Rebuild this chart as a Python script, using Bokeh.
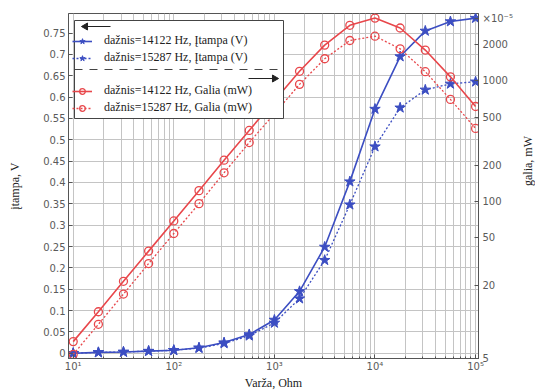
import math
from bokeh.plotting import figure
from bokeh.models import (Range1d, LogScale, LogAxis, FixedTicker, Legend,
                          LegendItem)
from bokeh.embed import file_html
from bokeh.resources import INLINE

# ---------------- data ----------------
resistance = [10, 17.8, 31.6, 56.2, 100, 178, 316, 562, 1000, 1778, 3162,
              5623, 10000, 17783, 31623, 56234, 100000]
voltage_14122 = [0.0, 0.002, 0.003, 0.005, 0.007, 0.013, 0.025, 0.044, 0.078,
                 0.145, 0.249, 0.402, 0.572, 0.695, 0.755, 0.777, 0.785]
voltage_15287 = [0.0, 0.002, 0.003, 0.005, 0.007, 0.012, 0.023, 0.041, 0.071,
                 0.128, 0.218, 0.348, 0.484, 0.575, 0.617, 0.631, 0.636]
power_14122 = [6.9, 12.2, 21.8, 38.8, 69, 123, 220, 388, 684, 1200, 1977,
               2884, 3311, 2741, 1800, 1079, 613]
power_15287 = [5.4, 9.6, 17.1, 30.6, 54.3, 96, 173, 308, 534, 935, 1524,
               2158, 2344, 1841, 1191, 702, 403]

series_labels = ["dažnis=14122 Hz, Įtampa (V)", "dažnis=15287 Hz, Įtampa (V)",
                 "dažnis=14122 Hz, Galia (mW)", "dažnis=15287 Hz, Galia (mW)"]

left_ticks = [0, 0.05, 0.1, 0.15, 0.2, 0.25, 0.3, 0.35, 0.4, 0.45, 0.5, 0.55,
              0.6, 0.65, 0.7, 0.75]
left_tick_labels = ["0", "0.05", "0.1", "0.15", "0.2", "0.25", "0.3", "0.35",
                    "0.4", "0.45", "0.5", "0.55", "0.6", "0.65", "0.7", "0.75"]
right_ticks = [5, 20, 50, 100, 200, 500, 1000, 2000]
right_tick_labels = ["5", "20", "50", "100", "200", "500", "1000", "2000"]
x_ticks = [10, 100, 1000, 10000, 100000]
x_tick_labels = ["10¹", "10²", "10³", "10⁴", "10⁵"]
exponent_label = "×10⁻⁵"

# ---------------- layout / styling ----------------
BLUE = "#3c4ec2"
RED = "#e8474b"
GRID = "#c4c4c4"
AX = "#555555"
TICKFONT = "DejaVu Sans"
SERIF = "Liberation Serif"

FL, FT, FW, FH = 68, 13, 410, 345          # frame left/top/width/height (px)
XR = (8.98, 1.069e5)
YR = (-0.0123, 0.7958)
PR = (5, 3614)
EXP_POS = 3290                              # where the ×10⁻⁵ marker sits

p = figure(frame_width=FW, frame_height=FH, x_axis_type="log",
           x_range=Range1d(*XR), y_range=Range1d(*YR),
           output_backend="svg", toolbar_location=None,
           min_border_left=FL, min_border_right=57, min_border_top=FT,
           min_border_bottom=32, background_fill_color="white",
           border_fill_color="white")
p.outline_line_color = AX
p.outline_line_width = 1

p.extra_y_ranges = {"power": Range1d(*PR)}
p.extra_y_scales = {"power": LogScale()}

# x axis
minor_x = [m * 10 ** k for k in range(0, 6) for m in range(2, 10)]
p.xaxis.ticker = FixedTicker(ticks=x_ticks, minor_ticks=minor_x)
p.xaxis.major_label_overrides = dict(zip(x_ticks, x_tick_labels))
p.xaxis.axis_label = "Varža, Ohm"

# left axis
p.yaxis.ticker = FixedTicker(ticks=left_ticks)
p.yaxis.major_label_overrides = dict(zip(left_ticks, left_tick_labels))
p.yaxis.axis_label = "įtampa, V"

# right axis
ax_r = LogAxis(y_range_name="power",
               ticker=FixedTicker(ticks=right_ticks + [EXP_POS]),
               axis_label="galia, mW")
ov = dict(zip(right_ticks, right_tick_labels))
ov[EXP_POS] = exponent_label
ax_r.major_label_overrides = ov
if "axis_label_orientation" in ax_r.properties():
    ax_r.axis_label_orientation = math.pi / 2
p.add_layout(ax_r, "right")

for ax in [p.xaxis[0], p.yaxis[0], ax_r]:
    ax.axis_line_color = AX
    ax.major_tick_line_color = AX
    ax.minor_tick_line_color = AX
    ax.major_tick_in = 4
    ax.major_tick_out = 0
    ax.minor_tick_in = 2
    ax.minor_tick_out = 0
    ax.major_label_text_font = TICKFONT
    ax.major_label_text_font_size = "10px"
    ax.major_label_text_color = "#5a5a5a"
    ax.axis_label_text_font = SERIF
    ax.axis_label_text_font_size = "12px"
    ax.axis_label_text_font_style = "normal"
    ax.axis_label_text_color = "#222222"

p.yaxis[0].minor_tick_line_color = None
ax_r.minor_tick_line_color = None
p.yaxis[0].major_label_standoff = 3
p.yaxis[0].axis_label_standoff = 18
ax_r.major_label_standoff = 4
ax_r.axis_label_standoff = 12
p.xaxis[0].major_label_standoff = 2
p.xaxis[0].axis_label_standoff = 1

p.xgrid.grid_line_color = GRID
p.xgrid.minor_grid_line_color = GRID
p.ygrid.grid_line_color = GRID

# ---------------- glyphs ----------------
l1 = p.line(resistance, voltage_14122, line_color=BLUE, line_width=1.6)
m1 = p.scatter(resistance, voltage_14122, marker="star", size=11,
               fill_color=BLUE, line_color=BLUE)
l2 = p.line(resistance, voltage_15287, line_color=BLUE, line_width=1.3,
            line_dash="2 2")
m2 = p.scatter(resistance, voltage_15287, marker="star", size=11,
               fill_color=BLUE, line_color=BLUE)
l3 = p.line(resistance, power_14122, line_color=RED, line_width=1.6,
            y_range_name="power")
m3 = p.scatter(resistance, power_14122, marker="circle", size=8,
               fill_alpha=0, line_color=RED, line_width=1.3,
               y_range_name="power")
l4 = p.line(resistance, power_15287, line_color=RED, line_width=1.3,
            line_dash="2 2", y_range_name="power")
m4 = p.scatter(resistance, power_15287, marker="circle", size=8,
               fill_alpha=0, line_color=RED, line_width=1.3,
               y_range_name="power")


# legend box + decorations (drawn as glyphs behind the transparent legend)
def px_x(px):
    a, b = math.log10(XR[0]), math.log10(XR[1])
    return 10 ** (a + (px - FL) / FW * (b - a))


def px_y(py):
    return YR[1] - (py - FT) / FH * (YR[1] - YR[0])


DEC = "#222222"
p.quad(left=[px_x(74)], right=[px_x(283)], top=[px_y(20)],
       bottom=[px_y(118)], fill_color="white", line_color="#444444",
       line_width=1)
p.segment(x0=[px_x(110), px_x(248)], y0=[px_y(26), px_y(78)],
          x1=[px_x(85), px_x(274)], y1=[px_y(26), px_y(78)],
          line_color=DEC, line_width=1)
p.scatter(x=[px_x(85), px_x(274)], y=[px_y(26), px_y(78)],
          marker="triangle", angle=[math.pi / 2, -math.pi / 2], size=7,
          fill_color=DEC, line_color=DEC)
p.segment(x0=[px_x(74)], y0=[px_y(69)], x1=[px_x(283)], y1=[px_y(69)],
          line_color="#444444", line_width=1, line_dash="8 7")

blank_a = p.line(x=[], y=[], line_alpha=0)
blank_b = p.line(x=[], y=[], line_alpha=0)

legend = Legend(items=[
    LegendItem(label=" ", renderers=[blank_a]),
    LegendItem(label=series_labels[0], renderers=[l1, m1]),
    LegendItem(label=series_labels[1], renderers=[l2, m2]),
    LegendItem(label=" ", renderers=[blank_b]),
    LegendItem(label=series_labels[2], renderers=[l3, m3]),
    LegendItem(label=series_labels[3], renderers=[l4, m4]),
], location="top_left", margin=4, padding=2, spacing=2,
    glyph_width=20, glyph_height=14, label_height=14, label_width=170,
    label_standoff=12, label_text_font=SERIF, label_text_font_size="12px",
    label_text_color="#222222", border_line_color=None,
    background_fill_alpha=0)
p.add_layout(legend)

open("out.html", "w").write(file_html(p, INLINE))
